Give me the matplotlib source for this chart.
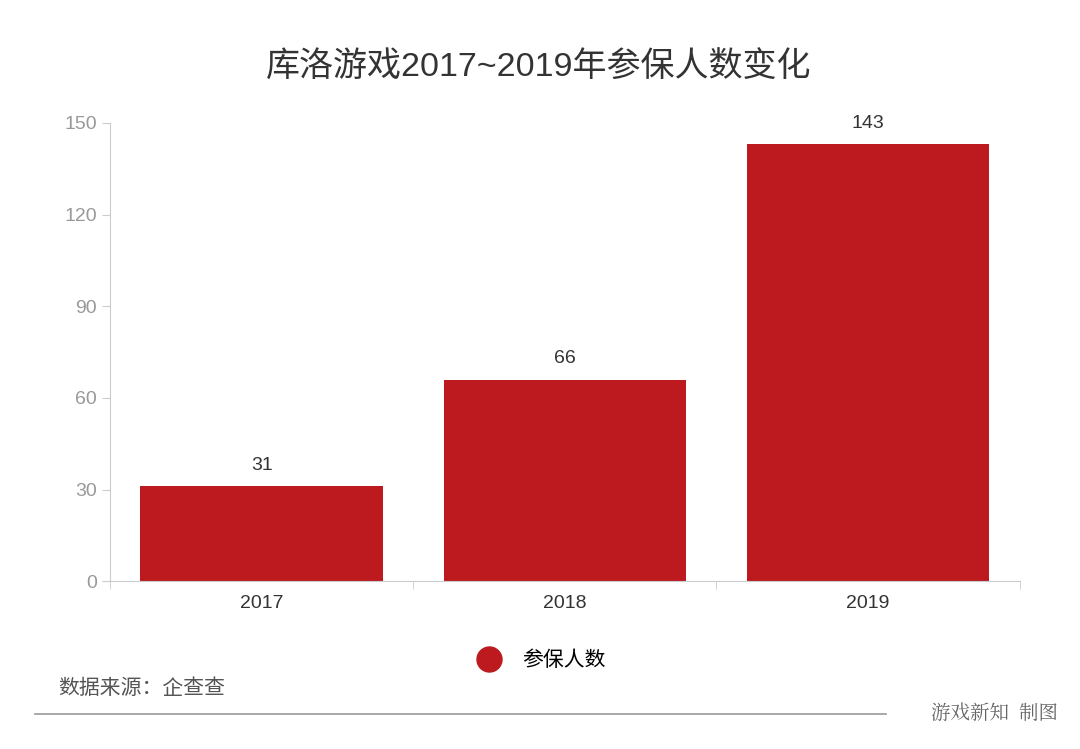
import numpy as np
import matplotlib
matplotlib.use("Agg")
import matplotlib.pyplot as plt
from matplotlib.lines import Line2D

plt.rcParams['font.family'] = ['Liberation Sans', 'Noto Sans CJK SC', 'DejaVu Sans']

years = ['2017', '2018', '2019']
values = [31, 66, 143]
series_name = '参保人数'
title = '库洛游戏2017~2019年参保人数变化'
bar_color = '#BC1A1F'

fig = plt.figure(figsize=(10.8, 7.49), dpi=100)
ax = fig.add_axes([0.102, 0.224, 0.842, 0.612])

x = np.arange(len(years))
ax.bar(x, values, width=0.8, color=bar_color, zorder=2)
for xi, v in zip(x, values):
    ax.text(xi, v + 4, str(v), ha='center', va='bottom', fontsize=14, color='#333333')

ax.set_xlim(-0.5, len(years) - 0.5)
ax.set_ylim(0, 150)
ax.set_yticks([0, 30, 60, 90, 120, 150])
ax.set_xticks(x)
ax.set_xticklabels(years, fontsize=14, color='#333333')
ax.tick_params(axis='y', labelsize=14, labelcolor='#999999', color='#cccccc', length=6)
ax.tick_params(axis='x', length=0, pad=10)
# category boundary ticks
ax.set_xticks(np.arange(len(years) + 1) - 0.5, minor=True)
ax.tick_params(axis='x', which='minor', length=6, color='#cccccc')
for s in ['top', 'right']:
    ax.spines[s].set_visible(False)
for s in ['left', 'bottom']:
    ax.spines[s].set_color('#cccccc')

fig.text(0.499, 0.909, title, ha='center', va='center', fontsize=24.5, color='#333333')

handle = Line2D([], [], marker='o', linestyle='none', markersize=18, color=bar_color)
fig.legend([handle], [series_name], loc='center', bbox_to_anchor=(0.497, 0.118),
           frameon=False, fontsize=15, handletextpad=0.6)

fig.text(0.054, 0.081, '数据来源：企查查', fontsize=15, color='#555555', va='center')
fig.add_artist(Line2D([0.032, 0.82], [0.047, 0.047], color='#999999', lw=1.2))
fig.text(0.98, 0.047, '游戏新知  制图', fontsize=14, color='#666666', ha='right', va='center',
         family=['Noto Serif CJK SC', 'Noto Sans CJK SC', 'DejaVu Sans'])

fig.savefig('out.png', dpi=100)
